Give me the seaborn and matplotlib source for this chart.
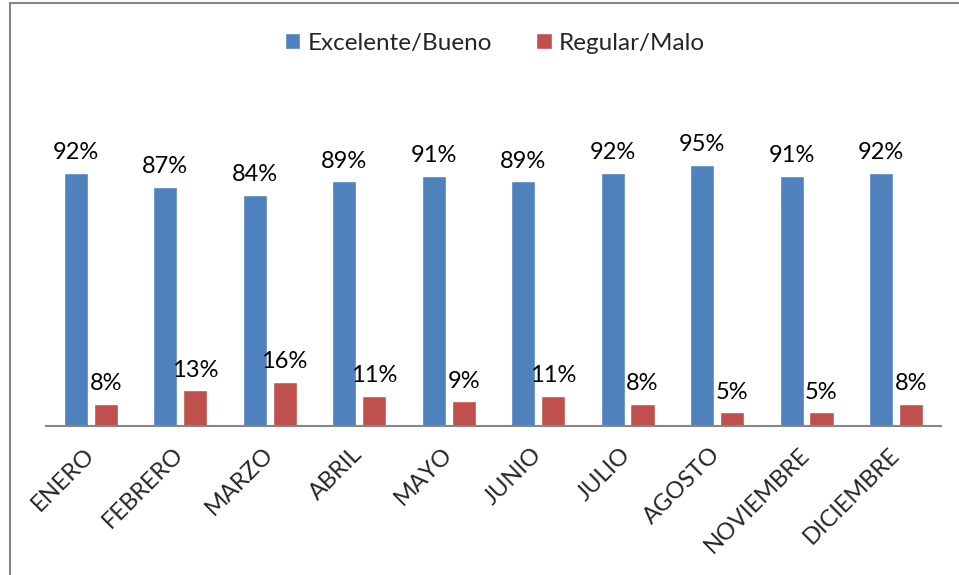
import pandas as pd
import matplotlib.pyplot as plt
import seaborn as sns
from matplotlib.lines import Line2D

# datos
meses = ['ENERO', 'FEBRERO', 'MARZO', 'ABRIL', 'MAYO', 'JUNIO', 'JULIO',
         'AGOSTO', 'NOVIEMBRE', 'DICIEMBRE']
excelente_bueno = [92, 87, 84, 89, 91, 89, 92, 95, 91, 92]
regular_malo = [8, 13, 16, 11, 9, 11, 8, 5, 5, 8]
series = ['Excelente/Bueno', 'Regular/Malo']
colores = ['#4F81BD', '#C0504D']

df = pd.DataFrame({
    'mes': meses * 2,
    'serie': [series[0]] * len(meses) + [series[1]] * len(meses),
    'valor': excelente_bueno + regular_malo,
})

sns.set_style('white')
plt.rcParams['font.family'] = ['Lato', 'DejaVu Sans']

fig = plt.figure(figsize=(9.59, 5.75), dpi=100)
ax = fig.add_axes([0.048, 0.259, 0.933, 0.478])

sns.barplot(data=df, x='mes', y='valor', hue='serie', order=meses,
            hue_order=series, palette=colores, width=0.667, gap=0.19,
            saturation=1, ax=ax, legend=True)

ax.set_ylim(0, 100)
ax.set_xlim(-0.5, len(meses) - 0.5)
ax.set_xlabel('')
ax.set_ylabel('')
ax.set_yticks([])
for s in ['top', 'right', 'left']:
    ax.spines[s].set_visible(False)
ax.spines['bottom'].set_color('#868686')
ax.spines['bottom'].set_linewidth(1.5)

# etiquetas de datos
for cont in ax.containers:
    ax.bar_label(cont, labels=[f'{v:.0f}%' for v in cont.datavalues],
                 padding=7, fontsize=17, color='black')

ax.tick_params(axis='x', length=0, pad=18)
plt.setp(ax.get_xticklabels(), rotation=45, ha='right', va='center',
         rotation_mode='anchor', fontsize=17)

# leyenda arriba
handles, labels = ax.get_legend_handles_labels()
ax.get_legend().remove()
fig.legend(handles, labels, loc='center', bbox_to_anchor=(0.516, 0.925),
           ncol=2, frameon=False, fontsize=17.5, handlelength=0.65,
           handleheight=0.65, handletextpad=0.3, columnspacing=1.8)

# borde del area del grafico
fig.add_artist(Line2D([10 / 959, 10 / 959], [0, 1 - 3 / 575],
                      color='#868686', lw=1.5))
fig.add_artist(Line2D([10 / 959, 1], [1 - 3 / 575, 1 - 3 / 575],
                      color='#868686', lw=1.5))

fig.savefig('out.png', dpi=100)
